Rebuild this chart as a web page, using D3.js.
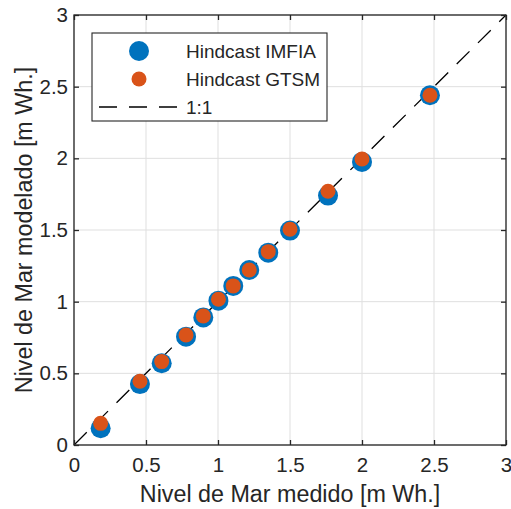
<!DOCTYPE html>
<html><head><meta charset="utf-8">
<script src="https://cdn.jsdelivr.net/npm/d3@7"></script>
<style>body{margin:0;background:#fff}svg{display:block}</style>
</head><body>
<script>
const measured = [0.185, 0.458, 0.609, 0.778, 0.898, 1.003, 1.106, 1.217, 1.349, 1.500, 1.764, 2.000, 2.472];
const imfia    = [0.117, 0.425, 0.570, 0.756, 0.890, 1.007, 1.110, 1.221, 1.342, 1.496, 1.740, 1.975, 2.440];
const gtsm     = [0.151, 0.445, 0.582, 0.767, 0.900, 1.017, 1.110, 1.221, 1.349, 1.505, 1.770, 1.995, 2.440];
const ticks = [0, 0.5, 1, 1.5, 2, 2.5, 3];
const tickLabels = ["0", "0.5", "1", "1.5", "2", "2.5", "3"];
const legendLabels = ["Hindcast IMFIA", "Hindcast GTSM", "1:1"];

const W = 511, H = 509;
const L = 74, R = 506, T = 15, B = 445;
const FONT = "'Liberation Sans', Arial, Helvetica, sans-serif";
const BLUE = "#0072BD", ORANGE = "#D95319", AX = "#262626";

const svg = d3.select("body").append("svg").attr("width", W).attr("height", H);
const x = d3.scaleLinear().domain([0, 3]).range([L, R]);
const y = d3.scaleLinear().domain([0, 3]).range([B, T]);

// grid
const g = svg.append("g");
g.selectAll(".gx").data(ticks).enter().append("line")
  .attr("x1", d => x(d)).attr("x2", d => x(d)).attr("y1", T).attr("y2", B)
  .attr("stroke", "#dfdfdf").attr("stroke-width", 1);
g.selectAll(".gy").data(ticks).enter().append("line")
  .attr("y1", d => y(d)).attr("y2", d => y(d)).attr("x1", L).attr("x2", R)
  .attr("stroke", "#dfdfdf").attr("stroke-width", 1);

// 1:1 line
svg.append("line")
  .attr("x1", x(0)).attr("y1", y(0)).attr("x2", x(3)).attr("y2", y(3))
  .attr("stroke", "#000").attr("stroke-width", 1.3).attr("stroke-dasharray", "18,12");

// points
const idx = d3.range(measured.length);
svg.append("g").selectAll("circle").data(idx).enter().append("circle")
  .attr("cx", i => x(measured[i])).attr("cy", i => y(imfia[i])).attr("r", 10).attr("fill", BLUE);
svg.append("g").selectAll("circle").data(idx).enter().append("circle")
  .attr("cx", i => x(measured[i])).attr("cy", i => y(gtsm[i])).attr("r", 7.5).attr("fill", ORANGE);

// axes (ticks inward)
const fmt = (d) => tickLabels[ticks.indexOf(d)];
function styleAxis(sel, hideText) {
  sel.select(".domain").remove();
  sel.selectAll(".tick line").attr("stroke", AX).attr("stroke-width", 1.3);
  sel.selectAll(".tick text").attr("fill", AX).style("font-family", FONT).style("font-size", "20.5px");
  if (hideText) sel.selectAll(".tick text").remove();
}
svg.append("g").attr("transform", `translate(0,${B})`)
  .call(d3.axisBottom(x).tickValues(ticks).tickFormat(fmt).tickSizeInner(-5).tickSizeOuter(0).tickPadding(12))
  .call(s => styleAxis(s, false));
svg.append("g").attr("transform", `translate(0,${T})`)
  .call(d3.axisTop(x).tickValues(ticks).tickSizeInner(-5).tickSizeOuter(0))
  .call(s => styleAxis(s, true));
svg.append("g").attr("transform", `translate(${L},0)`)
  .call(d3.axisLeft(y).tickValues(ticks).tickFormat(fmt).tickSizeInner(-5).tickSizeOuter(0).tickPadding(6))
  .call(s => styleAxis(s, false));
svg.append("g").attr("transform", `translate(${R},0)`)
  .call(d3.axisRight(y).tickValues(ticks).tickSizeInner(-5).tickSizeOuter(0))
  .call(s => styleAxis(s, true));

// frame
svg.append("rect").attr("x", L).attr("y", T).attr("width", R - L).attr("height", B - T)
  .attr("fill", "none").attr("stroke", AX).attr("stroke-width", 1.3);

// axis labels
svg.append("text").attr("x", (L + R) / 2).attr("y", 502).attr("text-anchor", "middle")
  .attr("fill", AX).style("font-family", FONT).style("font-size", "23.3px")
  .text("Nivel de Mar medido [m Wh.]");
svg.append("text").attr("transform", `translate(32,${(T + B) / 2}) rotate(-90)`)
  .attr("text-anchor", "middle")
  .attr("fill", AX).style("font-family", FONT).style("font-size", "23.3px")
  .text("Nivel de Mar modelado [m Wh.]");

// legend
const lg = svg.append("g");
lg.append("rect").attr("x", 92).attr("y", 33).attr("width", 235).attr("height", 88)
  .attr("fill", "#fff").attr("stroke", AX).attr("stroke-width", 1.1);
const rows = [51, 79, 107];
lg.append("circle").attr("cx", 139).attr("cy", rows[0]).attr("r", 10).attr("fill", BLUE);
lg.append("circle").attr("cx", 139).attr("cy", rows[1]).attr("r", 7.5).attr("fill", ORANGE);
lg.append("line").attr("x1", 99).attr("x2", 178).attr("y1", rows[2]).attr("y2", rows[2])
  .attr("stroke", "#000").attr("stroke-width", 1.3).attr("stroke-dasharray", "18,12");
lg.selectAll("text.l").data(legendLabels).enter().append("text")
  .attr("x", 186).attr("y", (d, i) => rows[i]).attr("dy", "0.35em")
  .attr("fill", AX).style("font-family", FONT).style("font-size", "19px").text(d => d);
</script>
</body></html>
